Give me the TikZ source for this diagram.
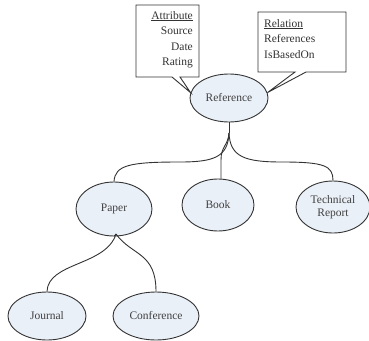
\documentclass[tikz,border=0pt]{standalone}
\usepackage{fontspec}
\setmainfont{Liberation Serif}
\usetikzlibrary{shapes.geometric,calc}
\definecolor{nodefill}{HTML}{EAF0F8}
\definecolor{inkgray}{HTML}{333333}
\tikzset{
  entity/.style={ellipse, draw=inkgray, fill=nodefill, line width=0.9pt,
    inner sep=0pt, align=center, font=\fontsize{11.5}{14}\selectfont, text=black!75},
  link/.style={draw=inkgray, line width=0.9pt},
  notebox/.style={draw=none, inner sep=0pt, font=\fontsize{11.5}{15.5}\selectfont, text=black!80},
  noteline/.style={draw=inkgray, line width=0.9pt, fill=white, line join=miter}
}
\begin{document}
\begin{tikzpicture}[x=1pt,y=-1pt]
  \useasboundingbox (0,0) rectangle (369,340);

  % class nodes
  \node[entity, minimum width=78, minimum height=48] (ref) at (229,98) {Reference};
  \node[entity, minimum width=76, minimum height=54] (paper) at (114,209) {Paper};
  \node[entity, minimum width=72, minimum height=52] (book) at (218,205) {Book};
  \node[entity, minimum width=74, minimum height=52] (tech) at (333,207) {Technical\\[-1pt]Report};
  \node[entity, minimum width=78, minimum height=48] (journal) at (47,316) {Journal};
  \node[entity, minimum width=86, minimum height=48] (conf) at (156,316) {Conference};

  % attribute and relation notes
  \coordinate (attrNW) at (136,5);
  \coordinate (attrSE) at (199,77);
  \coordinate (relNW) at (258,12);
  \coordinate (relSE) at (346,72);
  \draw[noteline] (attrNW) -- (attrNW -| attrSE) -- (attrSE)
    -- (180,77) -- (ref.172) -- (172,77) -- (attrNW |- attrSE) -- cycle;
  \draw[noteline] (relNW) -- (relNW -| relSE) -- (relSE)
    -- (306,72) -- (ref.8) -- (295,72) -- (relNW |- relSE) -- cycle;
  \node[notebox, anchor=north east, align=right] (attr) at (193,11)
    {\underline{Attribute}\\Source\\Date\\Rating};
  \node[notebox, anchor=north west, align=left] (rel) at (264,19)
    {\underline{Relation}\\References\\IsBasedOn};

  % branch points
  \coordinate (refsplit) at (229,133);
  \coordinate (papersplit) at (116,234);

  % tree connectors
  \draw[link] (ref.south) -- (refsplit);
  \draw[link] (refsplit) .. controls (228,157) and (214,162) .. (180,162)
    .. controls (130,162) and (115,165) .. (paper.north);
  \draw[link] (refsplit) .. controls (228,146) and (221,146) .. (221,160) -- (book.north -| 221,0);
  \draw[link] (refsplit) .. controls (230,157) and (245,162) .. (282,162)
    .. controls (325,162) and (333,166) .. (tech.north);
  \draw[link] (paper.south) -- (papersplit);
  \draw[link] (papersplit) .. controls (106,266) and (48,262) .. (journal.north);
  \draw[link] (papersplit) .. controls (132,256) and (156,252) .. (conf.north);
\end{tikzpicture}
\end{document}
